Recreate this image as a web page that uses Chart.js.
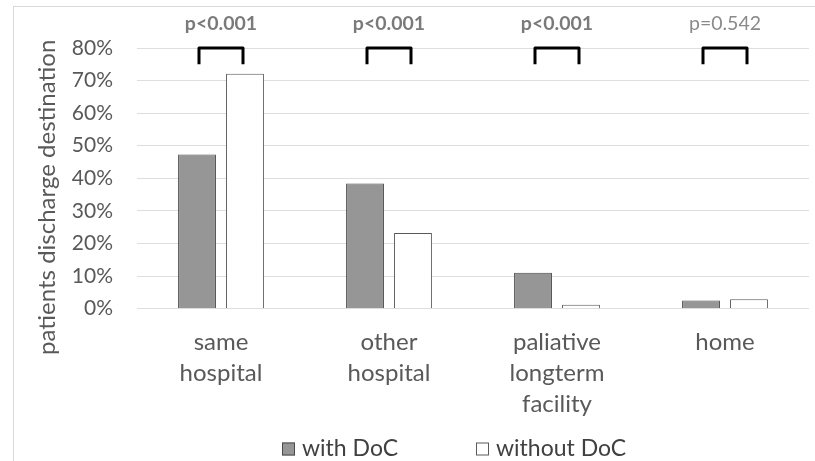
<!DOCTYPE html>
<html><head><meta charset="utf-8">
<script src="https://cdn.jsdelivr.net/npm/chart.js@4/dist/chart.umd.min.js"></script>
<style>
html,body{margin:0;padding:0;background:#fff;overflow:hidden}
#wrap{position:relative;width:815px;height:461px;background:#fff}
#frame{position:absolute;left:13px;top:6px;width:900px;height:600px;border-top:1px solid #d9d9d9;border-left:1px solid #d9d9d9;box-sizing:border-box}
canvas{position:absolute;left:0;top:0}
</style></head><body>
<div id="wrap"><div id="frame"></div><canvas id="c" width="815" height="461"></canvas></div>
<script>
const categories = [["same","hospital"],["other","hospital"],["paliative","longterm","facility"],["home"]];
const seriesNames = ["with DoC","without DoC"];
const withDoC = [47.3, 38.4, 11.0, 2.5];
const withoutDoC = [72.1, 23.2, 1.2, 2.9];
const pValues = ["p<0.001","p<0.001","p<0.001","p=0.542"];
const pSignificant = [true,true,true,false];
const yTickValues = [0,10,20,30,40,50,60,70,80];
const yTitle = "patients discharge destination";

const FONT = "Lato, 'Open Sans', sans-serif";
const fills = ["#969696", "#ffffff"];
const borders = ["#4a4a4a", "#5a5a5a"];

const annotationPlugin = {
  id: 'pvalues',
  afterDatasetsDraw(chart) {
    const ctx = chart.ctx;
    const xs = chart.scales.x, ys = chart.scales.y;
    const top = ys.getPixelForValue(80);
    const legBottom = ys.getPixelForValue(75);
    ctx.save();
    pValues.forEach((p, i) => {
      const cx = xs.getPixelForValue(i);
      ctx.strokeStyle = "#000";
      ctx.lineWidth = 3;
      ctx.lineJoin = "round";
      ctx.lineCap = "butt";
      ctx.beginPath();
      ctx.moveTo(cx - 22, legBottom);
      ctx.lineTo(cx - 22, top);
      ctx.lineTo(cx + 22, top);
      ctx.lineTo(cx + 22, legBottom);
      ctx.stroke();
      ctx.font = (pSignificant[i] ? "bold " : "") + "19.5px " + FONT;
      ctx.fillStyle = pSignificant[i] ? "#7a7a7a" : "#8a8a8a";
      ctx.textAlign = "center";
      ctx.textBaseline = "alphabetic";
      ctx.fillText(p, cx, top - 18);
    });
    ctx.restore();
  }
};

const titleAndLegendPlugin = {
  id: 'titleLegend',
  afterDraw(chart) {
    const ctx = chart.ctx;
    const ca = chart.chartArea;
    ctx.save();
    // y-axis title
    ctx.translate(55, (ca.top + ca.bottom) / 2 + 19);
    ctx.rotate(-Math.PI / 2);
    ctx.font = "24px " + FONT;
    ctx.fillStyle = "#595959";
    ctx.textAlign = "center";
    ctx.textBaseline = "alphabetic";
    ctx.fillText(yTitle, 0, 0);
    ctx.restore();

    // legend
    const mid = (ca.left + ca.right) / 2;
    const starts = [mid - 191, mid + 3];
    const cy = 449;
    ctx.save();
    ctx.font = "23px " + FONT;
    ctx.textBaseline = "middle";
    ctx.textAlign = "left";
    seriesNames.forEach((name, i) => {
      const x = starts[i];
      ctx.fillStyle = fills[i];
      ctx.fillRect(x, cy - 6.5, 13, 13);
      ctx.strokeStyle = borders[i];
      ctx.lineWidth = 1;
      ctx.strokeRect(x + 0.5, cy - 6, 12, 12);
      ctx.fillStyle = "#404040";
      ctx.fillText(name, x + 20, cy);
    });
    ctx.restore();
  }
};

new Chart(document.getElementById('c'), {
  type: 'bar',
  data: {
    labels: categories,
    datasets: [
      { label: seriesNames[0], data: withDoC, backgroundColor: fills[0], borderColor: borders[0], borderWidth: 1,
        barPercentage: 0.79, categoryPercentage: 0.571 },
      { label: seriesNames[1], data: withoutDoC, backgroundColor: fills[1], borderColor: borders[1], borderWidth: 1,
        barPercentage: 0.79, categoryPercentage: 0.571 }
    ]
  },
  options: {
    responsive: false,
    animation: false,
    devicePixelRatio: 1,
    layout: { padding: { left: 20, top: 48, right: 6, bottom: 22.5 } },
    plugins: {
      legend: { display: false },
      tooltip: { enabled: false }
    },
    scales: {
      x: {
        grid: { display: false, drawTicks: false },
        border: { display: false },
        ticks: { font: { family: FONT, size: 24, lineHeight: 1.29 }, color: "#595959", padding: 18.5,
                 maxRotation: 0, autoSkip: false }
      },
      y: {
        min: 0, max: 80,
        afterFit(scale) { scale.width = 117; },
        afterBuildTicks(scale) { scale.ticks = yTickValues.map(v => ({ value: v })); },
        grid: { color: "#dedede", lineWidth: 1, drawTicks: false },
        border: { display: false },
        ticks: { font: { family: FONT, size: 21 }, color: "#595959", padding: 24,
                 callback: v => v + "%" },
        title: { display: false }
      }
    }
  },
  plugins: [annotationPlugin, titleAndLegendPlugin]
});
</script>
</body></html>
